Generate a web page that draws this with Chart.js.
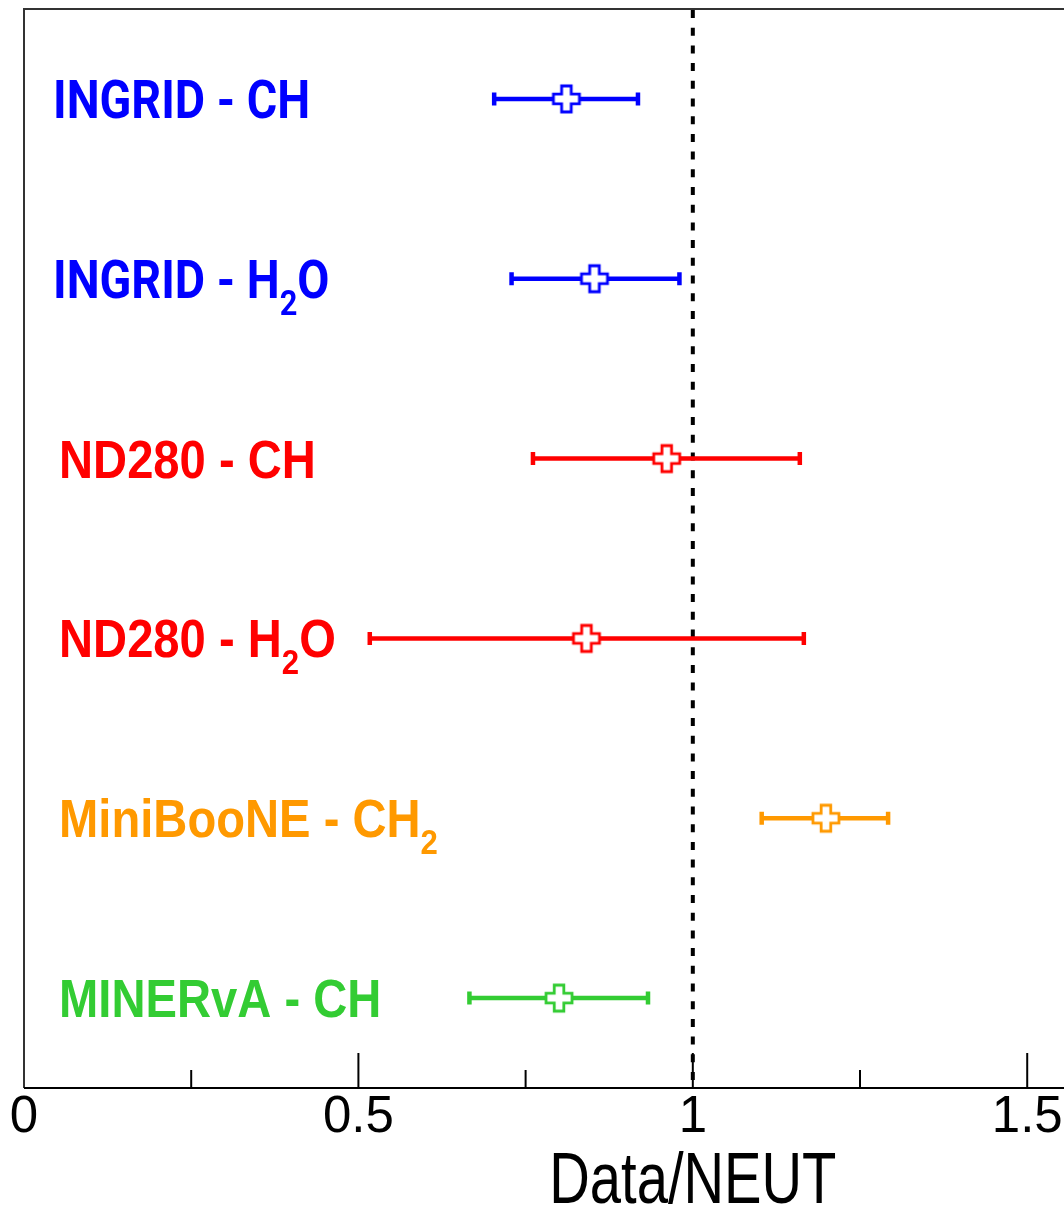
<!DOCTYPE html>
<html>
<head>
<meta charset="utf-8">
<script src="https://cdn.jsdelivr.net/npm/chart.js@4.4.1/dist/chart.umd.min.js"></script>
<style>
  html, body { margin: 0; padding: 0; background: #fff; overflow: hidden; }
  #wrap { position: relative; width: 1064px; height: 1211px; }
</style>
</head>
<body>
<div id="wrap"><canvas id="c" width="1064" height="1211"></canvas></div>
<script>
// Measurements, top to bottom (ROOT-style "_{}" marks a subscript)
const categories = ['INGRID - CH', 'INGRID - H_{2}O', 'ND280 - CH', 'ND280 - H_{2}O', 'MiniBooNE - CH_{2}', 'MINERvA - CH'];
const ratios  = [0.811, 0.853, 0.961, 0.841, 1.199, 0.800];
const errLow  = [0.703, 0.729, 0.761, 0.517, 1.103, 0.666];
const errHigh = [0.918, 0.980, 1.160, 1.166, 1.292, 0.933];
const colors  = ['#0000ff', '#0000ff', '#ff0000', '#ff0000', '#ff9900', '#33cc33'];
const majorTicks = [0, 0.5, 1, 1.5];
const minorTicks = [0.25, 0.75, 1.25];
const tickLabels = ['0', '0.5', '1', '1.5'];
const referenceValue = 1;
const axisTitle = 'Data/NEUT';

// Label fonts: the INGRID rows use a narrower face
const labelStyle = {
  INGRID: { family: 'Roboto', scaleX: 0.88, offset: 29 },
  other:  { family: '"Liberation Sans", Arial, sans-serif', scaleX: 0.89, offset: 35 }
};

// Open-cross marker, drawn once per colour
function crossMarker(color) {
  const cv = document.createElement('canvas');
  cv.width = 34; cv.height = 34;
  const g = cv.getContext('2d');
  const c = 17, L = 13, w = 4.8;
  g.beginPath();
  g.moveTo(c - w, c - L); g.lineTo(c + w, c - L); g.lineTo(c + w, c - w);
  g.lineTo(c + L, c - w); g.lineTo(c + L, c + w); g.lineTo(c + w, c + w);
  g.lineTo(c + w, c + L); g.lineTo(c - w, c + L); g.lineTo(c - w, c + w);
  g.lineTo(c - L, c + w); g.lineTo(c - L, c - w); g.lineTo(c - w, c - w);
  g.closePath();
  g.fillStyle = '#fff'; g.fill();
  g.lineWidth = 2.8; g.strokeStyle = color; g.stroke();
  return cv;
}

const points = ratios.map((v, i) => ({ x: v, y: i + 0.5 }));

function parseLabel(s) {
  const parts = [];
  const re = /_\{([^}]*)\}/g;
  let last = 0, m;
  while ((m = re.exec(s)) !== null) {
    if (m.index > last) parts.push({ t: s.slice(last, m.index), sub: false });
    parts.push({ t: m[1], sub: true });
    last = re.lastIndex;
  }
  if (last < s.length) parts.push({ t: s.slice(last), sub: false });
  return parts;
}

const decorations = {
  id: 'decorations',
  beforeDatasetsDraw(chart) {
    const { ctx, chartArea: a, scales: { x, y } } = chart;
    ctx.save();
    // dashed reference line
    const xr = x.getPixelForValue(referenceValue);
    ctx.strokeStyle = '#000';
    ctx.lineWidth = 4;
    ctx.setLineDash([8, 9.7]);
    ctx.beginPath();
    ctx.moveTo(xr, a.top + 1);
    ctx.lineTo(xr, a.bottom);
    ctx.stroke();
    ctx.setLineDash([]);
    // error bars with end caps
    ratios.forEach((v, i) => {
      const py = y.getPixelForValue(i + 0.5);
      const x0 = x.getPixelForValue(errLow[i]);
      const x1 = x.getPixelForValue(errHigh[i]);
      ctx.strokeStyle = colors[i];
      ctx.lineWidth = 4.5;
      ctx.beginPath();
      ctx.moveTo(x0, py); ctx.lineTo(x1, py);
      ctx.stroke();
      ctx.lineWidth = 4.5;
      ctx.beginPath();
      ctx.moveTo(x0, py - 6.5); ctx.lineTo(x0, py + 6.5);
      ctx.moveTo(x1, py - 6.5); ctx.lineTo(x1, py + 6.5);
      ctx.stroke();
    });
    ctx.restore();
  },
  afterDatasetsDraw(chart) {
    const { ctx, chartArea: a, scales: { x, y } } = chart;
    ctx.save();
    // frame: top and left edges, bottom axis
    ctx.strokeStyle = '#333';
    ctx.lineWidth = 2;
    ctx.beginPath();
    ctx.moveTo(a.left, a.bottom); ctx.lineTo(a.left, a.top); ctx.lineTo(a.right + 2, a.top);
    ctx.stroke();
    ctx.strokeStyle = '#000';
    ctx.beginPath();
    ctx.moveTo(a.left, a.bottom); ctx.lineTo(a.right + 2, a.bottom);
    ctx.stroke();
    // tick marks pointing up into the frame
    ctx.lineWidth = 2;
    majorTicks.forEach(v => {
      if (v === 0) return;
      const px = x.getPixelForValue(v);
      ctx.beginPath(); ctx.moveTo(px, a.bottom); ctx.lineTo(px, a.bottom - 35); ctx.stroke();
    });
    minorTicks.forEach(v => {
      const px = x.getPixelForValue(v);
      ctx.beginPath(); ctx.moveTo(px, a.bottom); ctx.lineTo(px, a.bottom - 18); ctx.stroke();
    });
    // axis title, set in a tall narrow face
    ctx.save();
    ctx.fillStyle = '#000';
    ctx.font = '72px "Liberation Sans", Arial, sans-serif';
    ctx.textAlign = 'center';
    ctx.textBaseline = 'alphabetic';
    ctx.translate(x.getPixelForValue(1), 1203);
    ctx.scale(0.78, 1);
    ctx.fillText(axisTitle, 0, 0);
    ctx.restore();
    // row labels
    ctx.textAlign = 'left';
    categories.forEach((lab, i) => {
      const st = lab.startsWith('INGRID') ? labelStyle.INGRID : labelStyle.other;
      const py = y.getPixelForValue(i + 0.5);
      const size = 53, subSize = 35;
      ctx.save();
      ctx.translate(a.left + st.offset, py + 19);
      ctx.scale(st.scaleX, 1);
      ctx.fillStyle = colors[i];
      let cx = 0;
      parseLabel(lab).forEach(p => {
        ctx.font = 'bold ' + (p.sub ? subSize : size) + 'px ' + st.family;
        ctx.fillText(p.t, cx, p.sub ? 17 : 0);
        cx += ctx.measureText(p.t).width;
      });
      ctx.restore();
    });
    ctx.restore();
  }
};

new Chart(document.getElementById('c'), {
  type: 'scatter',
  data: {
    datasets: [{
      data: points,
      pointStyle: colors.map(crossMarker),
      pointRadius: 14,
      pointHoverRadius: 14,
      borderWidth: 0
    }]
  },
  options: {
    responsive: false,
    animation: false,
    events: [],
    layout: { autoPadding: false, padding: { left: 24, top: 9, right: 0, bottom: 0 } },
    plugins: { legend: { display: false }, tooltip: { enabled: false } },
    scales: {
      x: {
        type: 'linear',
        min: 0,
        max: 1.555,
        afterBuildTicks(scale) { scale.ticks = majorTicks.map(v => ({ value: v })); },
        afterFit(scale) {
          scale.height = 123;
          scale.paddingLeft = 0; scale.paddingRight = 0;
        },
        grid: { display: false, drawTicks: false },
        border: { display: false },
        ticks: {
          padding: -1,
          maxRotation: 0,
          autoSkip: false,
          color: '#000',
          font: { family: '"Liberation Sans", Arial, sans-serif', size: 51 },
          callback: (v, i) => tickLabels[i]
        }
      },
      y: {
        type: 'linear',
        min: 0,
        max: 6,
        reverse: true,
        display: false
      }
    }
  },
  plugins: [decorations]
});
</script>
</body>
</html>
